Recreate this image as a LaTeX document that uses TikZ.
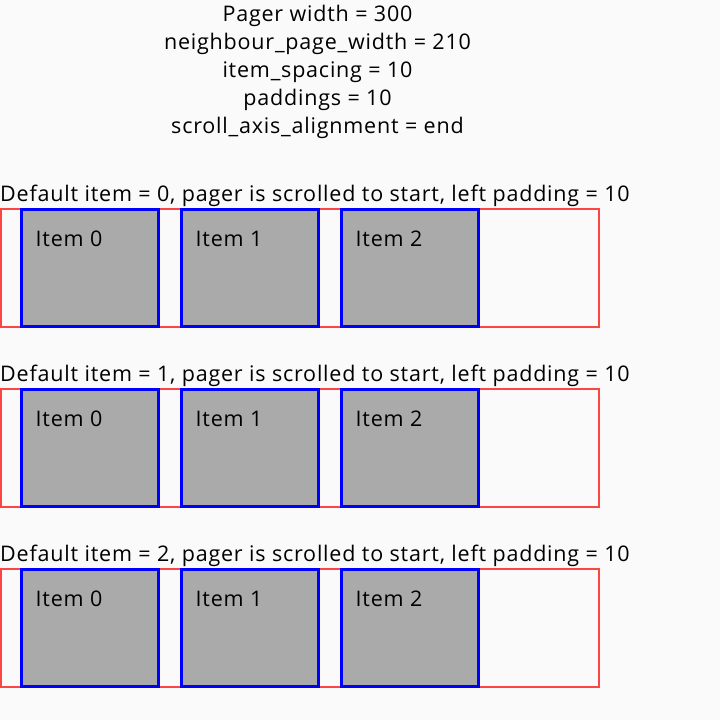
\documentclass[tikz,border=0pt]{standalone}
\usepackage{fontspec}
\setmainfont{Open Sans}[LetterSpace=3.7]
\usetikzlibrary{positioning}

\definecolor{paper}{HTML}{FAFAFA}
\definecolor{pagerred}{HTML}{FF4444}
\definecolor{itemblue}{HTML}{0000FF}
\definecolor{itemgray}{HTML}{AAAAAA}

\tikzset{
    heading/.style={align=center, font=\fontsize{21.5}{28}\selectfont, inner sep=0pt},
    caption/.style={anchor=base west, font=\fontsize{21.5}{25}\selectfont, inner sep=0pt},
    pager/.style={draw=pagerred, line width=2pt, minimum width=598pt, minimum height=118pt, inner sep=0pt, outer sep=0pt},
    pageitem/.style={draw=itemblue, fill=itemgray, line width=3pt, minimum width=137pt, minimum height=117pt, inner sep=0pt, outer sep=0pt},
    itemtext/.style={anchor=base west, font=\fontsize{21.5}{25}\selectfont, inner sep=0pt},
}

\begin{document}
\begin{tikzpicture}[x=1pt, y=1pt]
    \fill[paper] (0,0) rectangle (720,-720);
    \useasboundingbox (0,0) rectangle (720,-720);

    \node[heading] (head) at (317.5,-72) {Pager width = 300\\neighbour\_page\_width = 210\\item\_spacing = 10\\paddings = 10\\scroll\_axis\_alignment = end};

    \foreach \r in {0,1,2} {
        \node[caption] (cap\r) at (0,-201.5-180*\r) {Default item = \r, pager is scrolled to start, left padding = 10};
        \node[pager] (pager\r) at (300,-268-180*\r) {};
        \foreach \i in {0,1,2} {
            \node[pageitem] (item\r\i) at (90+160*\i,-268-180*\r) {};
            \node[itemtext] (label\r\i) at ([xshift=14pt,yshift=-36.5pt]item\r\i.north west) {Item \i};
        }
    }
\end{tikzpicture}
\end{document}
